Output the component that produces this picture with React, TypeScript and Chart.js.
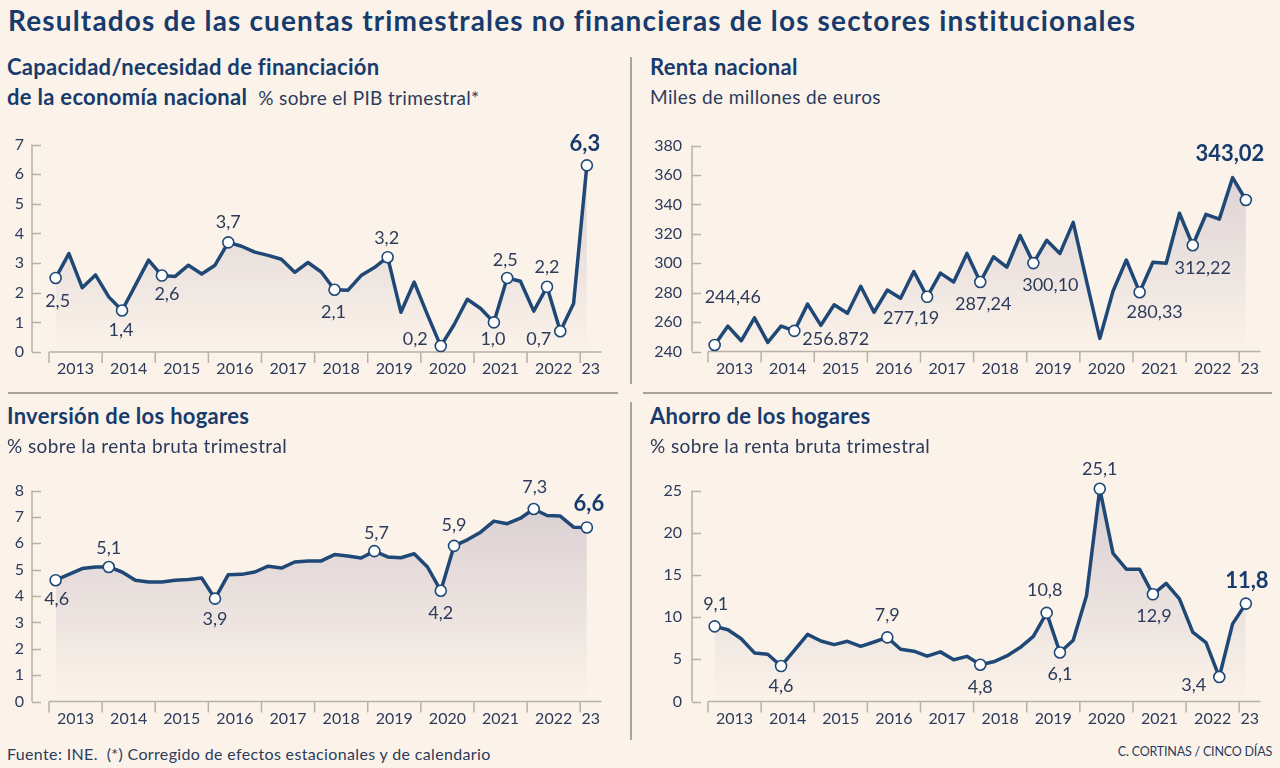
import React, { useEffect, useRef } from "react";
import { Chart, registerables } from "chart.js";

Chart.register(...registerables);

// ---------- DATA ----------
const quarters = [
  "2013T1", "2013T2", "2013T3", "2013T4",
  "2014T1", "2014T2", "2014T3", "2014T4",
  "2015T1", "2015T2", "2015T3", "2015T4",
  "2016T1", "2016T2", "2016T3", "2016T4",
  "2017T1", "2017T2", "2017T3", "2017T4",
  "2018T1", "2018T2", "2018T3", "2018T4",
  "2019T1", "2019T2", "2019T3", "2019T4",
  "2020T1", "2020T2", "2020T3", "2020T4",
  "2021T1", "2021T2", "2021T3", "2021T4",
  "2022T1", "2022T2", "2022T3", "2022T4",
  "2023T1",
];
const yearLabels = ["2013", "2014", "2015", "2016", "2017", "2018", "2019", "2020", "2021", "2022", "23"];

const capacidad = [
  2.5, 3.32, 2.17, 2.6, 1.86, 1.4, 2.25, 3.1, 2.58, 2.55,
  2.93, 2.63, 2.93, 3.7, 3.57, 3.37, 3.26, 3.13, 2.69, 3.02,
  2.7, 2.1, 2.08, 2.58, 2.85, 3.2, 1.34, 2.36, 1.25, 0.2,
  0.92, 1.78, 1.47, 1.0, 2.5, 2.39, 1.38, 2.2, 0.7, 1.64,
  6.3,
];
const capacidadMarks = [0, 5, 8, 13, 21, 25, 29, 33, 34, 37, 38, 40];
const capacidadLabels = ["2,5", "1,4", "2,6", "3,7", "2,1", "3,2", "0,2", "1,0", "2,5", "2,2", "0,7", "6,3"];

const renta = [
  244.46, 257.3, 247.3, 262.9, 246.2, 257.3, 254, 272.2, 257.8, 271.8,
  266, 284.4, 266.7, 281.8, 276.2, 294.4, 277.19, 293.3, 287.3, 306.7,
  287.24, 304.4, 297.3, 318.9, 300.1, 315.6, 306.7, 327.8, 288, 248.9,
  281.1, 302.2, 280.33, 300.7, 300, 334, 312.22, 333.3, 330, 358.2,
  343.02,
];
const rentaMarks = [0, 6, 16, 20, 24, 32, 36, 40];
const rentaLabels = ["244,46", "256.872", "277,19", "287,24", "300,10", "280,33", "312,22", "343,02"];

const inversion = [
  4.6, 4.82, 5.04, 5.1, 5.1, 4.91, 4.6, 4.53, 4.53, 4.6,
  4.63, 4.68, 3.9, 4.81, 4.82, 4.91, 5.13, 5.06, 5.29, 5.33,
  5.33, 5.57, 5.52, 5.44, 5.7, 5.48, 5.45, 5.6, 5.1, 4.2,
  5.9, 6.13, 6.42, 6.84, 6.74, 6.95, 7.3, 7.05, 7.03, 6.61,
  6.6,
];
const inversionMarks = [0, 4, 12, 24, 29, 30, 36, 40];
const inversionLabels = ["4,6", "5,1", "3,9", "5,7", "4,2", "5,9", "7,3", "6,6"];

const ahorro = [
  8.9, 8.5, 7.44, 5.76, 5.6, 4.2, 6.07, 7.95, 7.17, 6.74,
  7.13, 6.54, 7.05, 7.6, 6.19, 5.96, 5.37, 5.88, 4.95, 5.35,
  4.35, 4.7, 5.4, 6.39, 7.72, 10.5, 5.8, 7.25, 12.54, 25.2,
  17.55, 15.67, 15.67, 12.7, 13.99, 12.15, 8.23, 6.97, 2.9, 9.2,
  11.6,
];
const ahorroMarks = [0, 5, 13, 20, 25, 26, 29, 33, 38, 40];
const ahorroLabels = ["9,1", "4,6", "7,9", "4,8", "10,8", "6,1", "25,1", "12,9", "3,4", "11,8"];

// ---------- STYLE ----------
const BG = "#fbf3ea";
const NAVY = "#1f4876";
const TITLE = "#173b6c";
const TEXT = "#2c3b5b";
const AXIS = "#b8b1a8";
const FONT = "Lato, 'Open Sans', sans-serif";

// label placement [dx, dy, align]  (style only)
const capacidadPlace: [number, number, string][] = [
  [2, 23, "center"], [-1, 20, "center"], [5, 19, "center"], [0, -20, "center"],
  [-1, 22, "center"], [-1, -19, "center"], [-13, -7, "right"], [-1, 17, "center"],
  [-2, -18, "center"], [0, -20, "center"], [-9, 8, "right"], [-2, -21, "center"],
];
const rentaPlace: [number, number, string][] = [
  [-10, -48, "left"], [8, 8, "left"], [-16, 21, "center"], [3, 22, "center"],
  [17, 22, "center"], [15, 20, "center"], [10, 23, "center"], [-16, -46, "center"],
];
const inversionPlace: [number, number, string][] = [
  [1, 19, "center"], [0, -19, "center"], [0, 21, "center"], [2, -18, "center"],
  [0, 22, "center"], [0, -21, "center"], [1, -22, "center"], [2, -24, "center"],
];
const ahorroPlace: [number, number, string][] = [
  [1, -22, "center"], [0, 20, "center"], [0, -22, "center"], [0, 22, "center"],
  [-2, -23, "center"], [0, 22, "center"], [0, -20, "center"], [1, 22, "center"],
  [-13, 8, "right"], [1, -23, "center"],
];

type PanelCfg = {
  data: number[];
  marks: number[];
  labels: string[];
  place: [number, number, string][];
  min: number;
  max: number;
  step: number;
  left: number;
  top: number;
  w: number;
  h: number;
  axisW: number;
  padTop: number;
  padRight: number;
  padBottom: number;
  axisGap: number;
  labelGap: number;
};

const decorPlugin = {
  id: "decor",
  beforeDatasetsDraw(chart: any, _args: any, opts: any) {
    const { ctx, chartArea: ca, scales } = chart;
    const x = scales.x;
    const y = scales.y;
    const ax = ca.left - opts.axisGap;
    const yTop = y.getPixelForValue(y.max);
    const yBot = y.getPixelForValue(y.min);
    ctx.save();
    ctx.strokeStyle = AXIS;
    ctx.lineWidth = 1.5;
    ctx.beginPath();
    ctx.moveTo(ax, yTop);
    ctx.lineTo(ax, yBot);
    for (const t of y.ticks) {
      const py = Math.round(y.getPixelForValue(t.value)) + 0.5;
      ctx.moveTo(ax, py);
      ctx.lineTo(ax + 9, py);
    }
    ctx.moveTo(ca.left, yBot);
    ctx.lineTo(ca.right + 8, yBot);
    const seps: number[] = [];
    for (let k = 0; k < yearLabels.length; k++) {
      const px = x.getPixelForValue(k * 4 - 0.5);
      seps.push(px);
      ctx.moveTo(px, yBot);
      ctx.lineTo(px, yBot + 11);
    }
    ctx.stroke();
    ctx.fillStyle = TEXT;
    ctx.font = `16px ${FONT}`;
    ctx.textAlign = "center";
    ctx.textBaseline = "middle";
    for (let k = 0; k < yearLabels.length; k++) {
      const a = seps[k];
      const b = k + 1 < seps.length ? seps[k + 1] : ca.right + 8;
      ctx.fillText(yearLabels[k], (a + b) / 2, yBot + 17);
    }
    ctx.restore();
  },
  afterDatasetsDraw(chart: any, _args: any, opts: any) {
    const { ctx } = chart;
    const meta = chart.getDatasetMeta(0);
    ctx.save();
    ctx.textBaseline = "middle";
    opts.marks.forEach((idx: number, j: number) => {
      const pt = meta.data[idx];
      const [dx, dy, align] = opts.place[j];
      const last = idx === opts.lastIndex;
      ctx.font = last ? `bold 22px ${FONT}` : `18px ${FONT}`;
      ctx.fillStyle = last ? TITLE : TEXT;
      ctx.textAlign = align;
      ctx.fillText(opts.labels[j], pt.x + dx, pt.y + dy);
    });
    ctx.restore();
  },
};

function Panel({ cfg }: { cfg: PanelCfg }) {
  const ref = useRef<HTMLCanvasElement | null>(null);
  useEffect(() => {
    if (!ref.current) return;
    const marks = cfg.marks;
    const chart = new Chart(ref.current, {
      type: "line",
      data: {
        labels: quarters,
        datasets: [
          {
            data: cfg.data,
            borderColor: NAVY,
            borderWidth: 3.5,
            borderJoinStyle: "round",
            borderCapStyle: "round",
            tension: 0,
            fill: "start",
            clip: false as any,
            backgroundColor: (c: any) => {
              const ca = c.chart.chartArea;
              if (!ca) return "rgba(0,0,0,0)";
              const g = c.chart.ctx.createLinearGradient(0, ca.top, 0, ca.bottom);
              g.addColorStop(0, "rgba(160,145,170,0.38)");
              g.addColorStop(1, "rgba(160,145,170,0)");
              return g;
            },
            pointRadius: (c: any) => (marks.includes(c.dataIndex) ? 5.5 : 0),
            pointHoverRadius: (c: any) => (marks.includes(c.dataIndex) ? 5.5 : 0),
            pointBackgroundColor: "#ffffff",
            pointBorderColor: NAVY,
            pointBorderWidth: 1.6,
          },
        ],
      },
      options: {
        animation: false,
        responsive: false,
        devicePixelRatio: 1,
        events: [],
        layout: {
          padding: { left: 0, top: cfg.padTop, right: cfg.padRight, bottom: cfg.padBottom },
        },
        plugins: {
          legend: { display: false },
          tooltip: { enabled: false },
          decor: {
            marks: cfg.marks,
            labels: cfg.labels,
            place: cfg.place,
            axisGap: cfg.axisGap,
            lastIndex: cfg.data.length - 1,
          },
        } as any,
        scales: {
          x: {
            type: "category",
            display: false,
            offset: true,
          },
          y: {
            min: cfg.min,
            max: cfg.max,
            grid: { display: false, drawTicks: false },
            border: { display: false },
            ticks: {
              stepSize: cfg.step,
              padding: cfg.axisGap + cfg.labelGap,
              color: TEXT,
              font: { family: FONT, size: 16 },
            },
            afterFit: (s: any) => {
              s.width = cfg.axisW;
            },
          },
        },
      },
      plugins: [decorPlugin],
    });
    return () => chart.destroy();
  }, [cfg]);
  return (
    <canvas
      ref={ref}
      width={cfg.w}
      height={cfg.h}
      style={{ position: "absolute", left: cfg.left, top: cfg.top, width: cfg.w, height: cfg.h }}
    />
  );
}

const panels: PanelCfg[] = [
  {
    data: capacidad, marks: capacidadMarks, labels: capacidadLabels, place: capacidadPlace,
    min: 0, max: 7, step: 1,
    left: 0, top: 110, w: 630, h: 280, axisW: 49, padTop: 30.5, padRight: 36.5, padBottom: 38,
    axisGap: 17, labelGap: 8,
  },
  {
    data: renta, marks: rentaMarks, labels: rentaLabels, place: rentaPlace,
    min: 240, max: 380, step: 20,
    left: 640, top: 110, w: 640, h: 280, axisW: 68, padTop: 30.7, padRight: 27.5, padBottom: 38.5,
    axisGap: 16, labelGap: 10,
  },
  {
    data: inversion, marks: inversionMarks, labels: inversionLabels, place: inversionPlace,
    min: 0, max: 8, step: 1,
    left: 0, top: 440, w: 630, h: 300, axisW: 49, padTop: 50.5, padRight: 36.5, padBottom: 38.5,
    axisGap: 17, labelGap: 8,
  },
  {
    data: ahorro, marks: ahorroMarks, labels: ahorroLabels, place: ahorroPlace,
    min: 0, max: 25, step: 5,
    left: 640, top: 440, w: 640, h: 300, axisW: 68, padTop: 50.5, padRight: 27.5, padBottom: 38.5,
    axisGap: 16, labelGap: 10,
  },
];

const abs = (l: number, t: number, extra: React.CSSProperties = {}): React.CSSProperties => ({
  position: "absolute",
  left: l,
  top: t,
  whiteSpace: "nowrap",
  fontFamily: FONT,
  zIndex: 2,
  ...extra,
});

const bold = (size: number, ls = 0.3): React.CSSProperties => ({
  fontWeight: 700, fontSize: size, color: TITLE, lineHeight: 1, letterSpacing: ls,
});
const reg = (size: number, ls = 0.4): React.CSSProperties => ({
  fontWeight: 400, fontSize: size, color: TEXT, lineHeight: 1, letterSpacing: ls,
});

export default function App() {
  return (
    <div
      style={{
        position: "fixed",
        left: 0,
        top: 0,
        width: 1280,
        height: 768,
        background: BG,
        overflow: "hidden",
      }}
    >
      {panels.map((p, i) => (
        <Panel key={i} cfg={p} />
      ))}
      <div style={abs(8, 6, bold(28, 1.15))}>
        Resultados de las cuentas trimestrales no financieras de los sectores institucionales
      </div>
      <div style={abs(7, 56, bold(22))}>Capacidad/necesidad de financiación</div>
      <div style={abs(7, 86, bold(22))}>
        de la economía nacional
        <span style={{ ...reg(19, 0.35), marginLeft: 11 }}>% sobre el PIB trimestral*</span>
      </div>
      <div style={abs(650, 56, bold(22))}>Renta nacional</div>
      <div style={abs(650, 87, reg(19))}>Miles de millones de euros</div>
      <div style={abs(7, 405, bold(22))}>Inversión de los hogares</div>
      <div style={abs(7, 436, reg(19))}>% sobre la renta bruta trimestral</div>
      <div style={abs(650, 405, bold(22))}>Ahorro de los hogares</div>
      <div style={abs(650, 436, reg(19))}>% sobre la renta bruta trimestral</div>
      <div style={abs(7, 746, reg(16, 0.35))}>Fuente: INE.&nbsp; (*) Corregido de efectos estacionales y de calendario</div>
      <div style={abs(0, 746, { ...reg(12.5, -0.2), left: "auto", right: 8 })}>C. CORTINAS / CINCO DÍAS</div>
      {/* dividers */}
      <div style={{ position: "absolute", left: 630, top: 57, width: 1.5, height: 327, background: "#a9a39c" }} />
      <div style={{ position: "absolute", left: 630, top: 402, width: 1.5, height: 338, background: "#a9a39c" }} />
      <div style={{ position: "absolute", left: 8, top: 392, width: 610, height: 1.5, background: "#a9a39c" }} />
      <div style={{ position: "absolute", left: 643, top: 392, width: 629, height: 1.5, background: "#a9a39c" }} />
    </div>
  );
}
